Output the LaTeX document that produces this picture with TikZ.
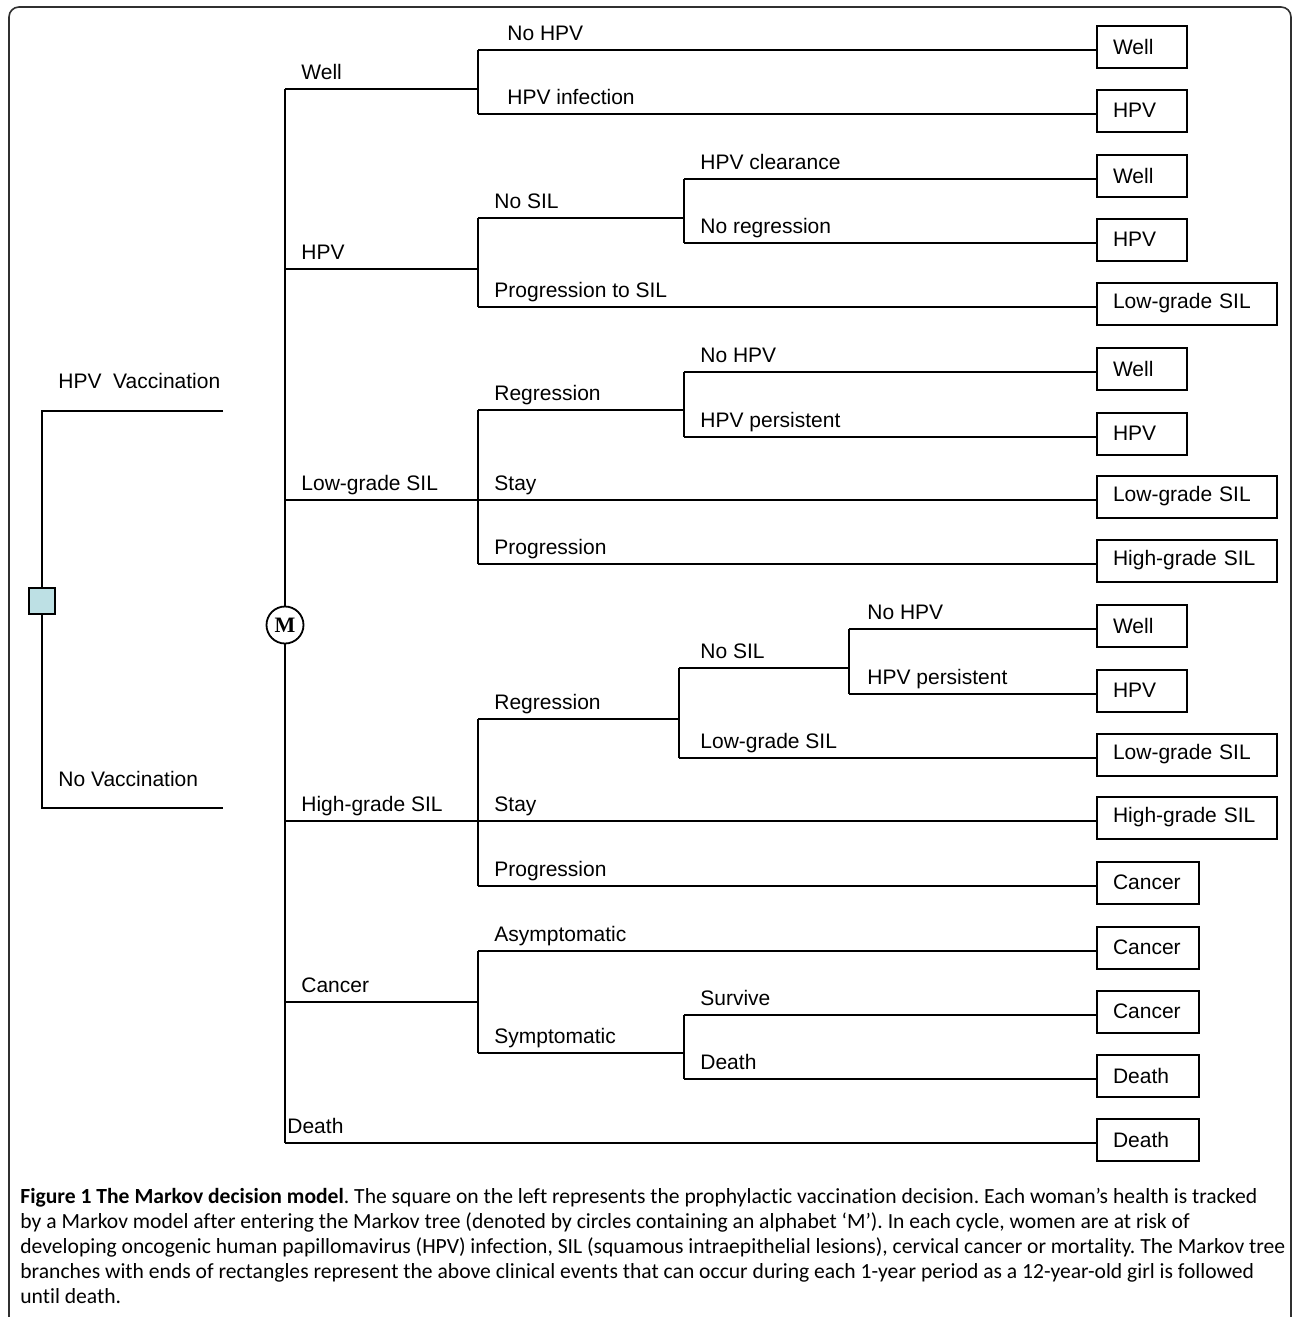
\documentclass[tikz,border=0pt]{standalone}
\usepackage{fontspec}
\setmainfont{Liberation Sans}
\newfontfamily\capfont[Ligatures=NoCommon]{Carlito}
\newfontfamily\mfont{Liberation Serif}
\usetikzlibrary{positioning}
\definecolor{decfill}{HTML}{BDE0E4}
\definecolor{framegray}{HTML}{303030}
\newcommand\treefont{\fontsize{10.5}{12}\selectfont}
\frenchspacing

\begin{document}
\begin{tikzpicture}[x=0.5pt, y=-0.5pt,
  branch/.style={line width=1pt},
  leaf/.style={rectangle, draw, line width=1pt, anchor=west, minimum height=21pt, inner xsep=8pt, inner ysep=0pt, text width=#1, align=left, font=\treefont},
  leaf/.default=29pt,
  lbl/.style={anchor=base west, inner sep=0pt, font=\treefont},
  markov/.style={circle, draw, line width=0.9pt, minimum size=18.5pt, inner sep=0pt, font=\mfont\bfseries\fontsize{11}{12}\selectfont},
  decision/.style={rectangle, draw, fill=decfill, line width=0.9pt, minimum size=13pt, inner sep=0pt}
]
  \useasboundingbox (0,0) rectangle (1295,1317);
  \draw[framegray, line width=0.8pt, rounded corners=5pt] (9,7) rectangle (1291,1345);

  % decision square
  \node[decision] (dec) at (42,601) {};
  \coordinate (vac) at (42,411);
  \coordinate (novac) at (42,808);
  \coordinate (vac-end) at (223,411);
  \coordinate (novac-end) at (223,808);
  \draw[branch] (vac-end) -- (vac) -- (dec) -- (novac) -- (novac-end);
  \node[lbl] (l-vac) at (58,388) {HPV\ \ Vaccination};
  \node[lbl] (l-novac) at (58,786) {No Vaccination};

  % markov node and first level
  \node[markov] (m) at (285,625) {M};
  \foreach \n/\y in {m1/89, m2/269, m3/500, m4/821, m5/1002, m6/1143}
    \coordinate (\n) at (285,\y);
  \foreach \n/\y in {a0/89, b0/269, c0/500, d0/821, e0/1002}
    \coordinate (\n) at (478,\y);
  \draw[branch] (m1) -- (m) -- (m6);
  \foreach \p/\q in {m1/a0, m2/b0, m3/c0, m4/d0, m5/e0}
    \draw[branch] (\p) -- (\q);

  % second level
  \foreach \n/\y in {a1/50, a2/114, b1/218, b2/307, c1/410, c3/564, d1/719, d3/886, e1/951, e2/1053}
    \coordinate (\n) at (478,\y);
  % third and fourth level
  \foreach \n/\x/\y in {f0/684/218, f1/684/179, f2/684/243, g0/684/410, g1/684/372, g2/684/437,
      h0/679/719, h1/679/668, h2/679/758, k0/849/668, k1/849/629, k2/849/694,
      n0/684/1053, n1/684/1015, n2/684/1079}
    \coordinate (\n) at (\x,\y);
  \foreach \p/\q in {a1/a2, b1/b2, b1/f0, f1/f2, c1/c3, c1/g0, g1/g2,
      d1/d3, d1/h0, h1/h2, h1/k0, k1/k2, e1/e2, e2/n0, n1/n2}
    \draw[branch] (\p) -- (\q);

  % end states
  \foreach \n/\y/\w/\t in {s1/50/29pt/Well, s2/114/29pt/HPV, s3/179/29pt/Well, s4/243/29pt/HPV,
      s5/307/74pt/Low-grade SIL, s6/372/29pt/Well, s7/437/29pt/HPV, s8/500/74pt/Low-grade SIL,
      s9/564/74pt/High-grade SIL, s10/629/29pt/Well, s11/694/29pt/HPV, s12/758/74pt/Low-grade SIL,
      s13/821/74pt/High-grade SIL, s14/886/35pt/Cancer, s15/951/35pt/Cancer, s16/1015/35pt/Cancer,
      s17/1079/35pt/Death, s18/1143/35pt/Death}
    \node[leaf=\w] (\n) at (1096,\y-3.5) {\t};
  \foreach \p/\s in {a1/s1, a2/s2, f1/s3, f2/s4, b2/s5, g1/s6, g2/s7, c0/s8, c3/s9,
      k1/s10, k2/s11, h2/s12, d0/s13, d3/s14, e1/s15, n1/s16, n2/s17, m6/s18}
    \draw[branch] (\p) -- (\s.west |- \p);

  % branch labels
  \foreach \n/\x/\y/\t in {l1/301/79/Well, l2/301/259/HPV, l3/301/490/Low-grade SIL,
      l4/301/811/High-grade SIL, l5/301/992/Cancer, l6/287/1133/Death,
      l7/507/40/No HPV, l8/507/104/HPV infection, l9/494/208/No SIL, l10/494/297/Progression to SIL,
      l11/494/400/Regression, l12/494/490/Stay, l13/494/554/Progression,
      l14/494/709/Regression, l15/494/811/Stay, l16/494/876/Progression,
      l17/494/941/Asymptomatic, l18/494/1043/Symptomatic,
      l19/700/169/HPV clearance, l20/700/233/No regression, l21/700/362/No HPV,
      l22/700/427/HPV persistent, l23/700/658/No SIL, l24/700/748/Low-grade SIL,
      l25/700/1005/Survive, l26/700/1069/Death, l27/867/619/No HPV, l28/867/684/HPV persistent}
    \node[lbl] (\n) at (\x,\y) {\t};

  % caption
  \node[anchor=north west, inner sep=0pt, align=left, font=\capfont\fontsize{10.8}{12.5}\selectfont] (cap) at (20,1188)
    {\textbf{Figure 1 The Markov decision model}. The square on the left represents the prophylactic vaccination decision. Each woman’s health is tracked\\
     by a Markov model after entering the Markov tree (denoted by circles containing an alphabet ‘M’). In each cycle, women are at risk of\\
     developing oncogenic human papillomavirus (HPV) infection, SIL (squamous intraepithelial lesions), cervical cancer or mortality. The Markov tree\\
     branches with ends of rectangles represent the above clinical events that can occur during each 1-year period as a 12-year-old girl is followed\\
     until death.};
\end{tikzpicture}
\end{document}
